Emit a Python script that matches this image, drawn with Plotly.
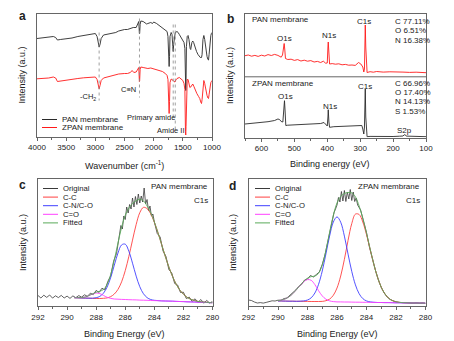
import plotly.graph_objects as go

# ---------------- Panel a : FTIR ----------------
wn_pan = [4000, 3900, 3800, 3720, 3680, 3650, 3600, 3500, 3400, 3300,
          3200, 3100, 3000, 2970, 2950, 2935, 2920, 2900, 2860, 2800,
          2700, 2650, 2600, 2550, 2500, 2450, 2400, 2350, 2300, 2270,
          2255, 2245, 2240, 2232, 2220, 2180, 2150, 2120, 2100, 2050,
          2020, 2000, 1950, 1900, 1850, 1800, 1770, 1755, 1745, 1735,
          1728, 1720, 1700, 1685, 1672, 1665, 1658, 1645, 1630, 1600,
          1580, 1560, 1530, 1500, 1480, 1465, 1455, 1450, 1445, 1438,
          1425, 1410, 1395, 1375, 1365, 1345, 1330, 1315, 1290, 1265,
          1240, 1215, 1200, 1180, 1170, 1155, 1140, 1125, 1105, 1085,
          1070, 1060, 1050, 1035, 1020, 1010, 1000]
int_pan = [98, 98.5, 99, 100, 99, 96.5, 97, 97.5, 98.5, 100,
           101, 102, 103, 100, 93, 89.5, 92, 98, 101.5, 102,
           103, 104, 105.5, 106.5, 107, 107, 108, 109, 109, 113,
           115, 103, 103, 112, 115.5, 115, 114, 112.5, 113, 114,
           113, 114.5, 113, 111, 109, 107, 105, 100, 80, 70,
           80, 100, 104, 102, 90, 85, 92, 101, 104, 105,
           104, 102, 99, 97, 94, 88, 50, 46, 55, 90,
           100, 101, 97, 88, 87, 94, 95.5, 94, 88, 85,
           82, 79.5, 79, 79, 82, 97, 101, 97, 87, 80,
           77, 76.5, 82, 95, 101, 103, 104]
wn_zpan = [4000, 3900, 3800, 3720, 3680, 3650, 3600, 3500, 3400, 3300,
           3200, 3100, 3000, 2970, 2950, 2935, 2920, 2900, 2860, 2800,
           2700, 2600, 2500, 2450, 2400, 2370, 2340, 2300, 2270, 2255,
           2245, 2240, 2232, 2220, 2180, 2150, 2100, 2050, 2000, 1950,
           1900, 1850, 1800, 1770, 1755, 1745, 1735, 1728, 1720, 1700,
           1680, 1665, 1650, 1635, 1620, 1600, 1560, 1530, 1500, 1480,
           1465, 1455, 1450, 1445, 1438, 1425, 1410, 1395, 1380, 1365,
           1345, 1330, 1310, 1285, 1260, 1230, 1210, 1190, 1180, 1170,
           1155, 1140, 1125, 1105, 1085, 1070, 1060, 1050, 1035, 1020,
           1010, 1000]
int_zpan = [57.7, 58, 58.5, 59.5, 58.5, 55, 55.5, 56, 57, 58,
            58.7, 59, 59.5, 57, 51, 47.7, 51, 56, 58.5, 59.5,
            61, 62.5, 63, 63, 64, 66, 64, 64.5, 67.5, 69,
            55, 56, 67, 69.5, 69, 68.5, 68, 68.5, 67.7, 67,
            66, 65, 63, 61, 57, 38, 23, 35, 54, 57.5,
            57, 56, 55, 54.5, 56.5, 58, 59, 57.5, 56, 53,
            47, 5, 1.5, 10, 45, 57, 57, 53, 49, 49.5,
            52, 52.5, 50, 46, 43, 40, 38, 34, 33, 37,
            52, 56, 53, 46, 41, 38.5, 38, 42, 50, 54,
            55, 56]
guide_wn = [2935, 2243, 1665, 1630]
guide_top = [104, 118, 112, 112]
guide_bot = [36, 39, 16, 5]

# ---------------- Panel b : XPS survey ----------------
be_pan = [650, 640, 630, 620, 610, 600, 590, 580, 570, 560,
          550, 545, 540, 536, 533, 531, 529, 527, 520, 510,
          500, 490, 480, 470, 460, 450, 440, 430, 420, 412,
          405, 400, 398, 397, 395, 393, 385, 375, 365, 355,
          345, 335, 325, 315, 305, 298, 292, 289, 287, 285.5,
          284.5, 283, 281, 279, 270, 260, 250, 230, 210, 190,
          170, 150, 130, 100]
surv_pan = [81.3, 82.0, 80.8, 81.6, 80.6, 81.8, 81.0, 82.4, 81.5, 82.6,
            81.6, 80.5, 79.8, 82, 91, 93.5, 87, 78.5, 77.5, 77.8,
            76.6, 77.4, 76.0, 76.8, 75.8, 76.4, 75.0, 75.6, 74.5, 75.8,
            73.8, 74.0, 90, 95, 84, 73, 73.4, 72.8, 73.2, 72.2,
            72.6, 71.8, 72.0, 71.6, 74.5, 73.0, 70.0, 65.0, 68, 100,
            112, 90, 66, 64.5, 65.3, 64.8, 65.5, 64.9, 65.2, 64.7,
            64.9, 64.6, 64.8, 64.3]
be_zpan = [650, 640, 620, 600, 580, 560, 550, 545, 540, 535,
           532, 530, 528, 526, 520, 500, 480, 460, 440, 420,
           410, 405, 400, 398, 397, 395, 393, 380, 360, 340,
           320, 305, 295, 292, 289, 287, 285.5, 284.5, 283, 281,
           279, 270, 250, 230, 200, 180, 170, 166, 163, 160,
           140, 120, 100]
surv_zpan = [13, 13.3, 14, 14.5, 15.3, 16.5, 18, 17.5, 15.5, 15,
             30, 36.3, 25, 11.5, 11.8, 12.0, 12.3, 12.6, 13, 13.5,
             14.5, 13, 11, 20, 27.3, 15, 9.7, 10.3, 10.7, 10.8,
             11.5, 12, 11.5, 8, 3, 10, 42, 48, 20, 0.5,
             0.3, 0.6, 0.4, 0.7, 0.5, 0.8, 1.0, 2.2, 2.2, 0.9,
             0.5, 0.4, 0.3]
comp_pan = ["C 77.11%", "O 6.51%", "N 16.38%"]
comp_zpan = ["C 66.96%", "O 17.40%", "N 14.13%", "S 1.53%"]

# ---------------- Panel c : PAN C1s ----------------
e_fit_c = [289.5, 289.25, 289.0, 288.75, 288.5, 288.25, 288.0, 287.75, 287.5, 287.25,
           287.0, 286.75, 286.5, 286.25, 286.0, 285.75, 285.5, 285.25, 285.0, 284.75,
           284.5, 284.25, 284.0, 283.75, 283.5, 283.25, 283.0, 282.75, 282.5, 282.25,
           282.0, 281.75, 281.5, 281.25, 281.0, 280.75, 280.5, 280.25, 280.0]
cc_c = [8.3, 8.2, 8.0, 7.9, 7.8, 7.6, 7.5, 7.5, 7.7, 8.1,
        9.4, 12.0, 16.6, 24.2, 35.4, 49.7, 65.9, 81.5, 93.3, 98.6,
        97.4, 92.2, 83.8, 73.3, 61.6, 49.8, 39.0, 29.6, 21.9, 16.0,
        11.8, 8.7, 6.8, 5.5, 4.6, 4.1, 3.8, 3.5, 3.3]
cn_c = [8.3, 8.2, 8.0, 7.9, 7.8, 7.8, 8.3, 9.6, 12.8, 18.8,
        28.5, 40.9, 53.0, 61.1, 61.8, 54.7, 42.8, 29.9, 19.3, 12.3,
        8.4, 6.5, 5.7, 5.4, 5.1, 5.0, 4.9, 4.8, 4.6, 4.5,
        4.4, 4.2, 4.1, 4.0, 3.8, 3.7, 3.6, 3.4, 3.3]
co_c = [8.3, 8.3, 8.4, 9.0, 10.4, 12.0, 13.0, 12.4, 10.6, 8.7,
        7.6, 7.0, 6.8, 6.6, 6.5, 6.3, 6.2, 6.1, 5.9, 5.8,
        5.7, 5.5, 5.4, 5.3, 5.1, 5.0, 4.9, 4.8, 4.6, 4.5,
        4.4, 4.2, 4.1, 4.0, 3.8, 3.7, 3.6, 3.4, 3.3]
fit_c = [8.3, 8.3, 8.4, 9.0, 10.4, 12.2, 13.8, 14.8, 16.5, 21.4,
         31.5, 46.2, 63.0, 78.7, 90.7, 98.1, 102.5, 105.3, 106.7, 105.1,
         100.1, 93.2, 84.1, 73.4, 61.6, 49.8, 39.0, 29.6, 21.9, 16.0,
         11.8, 8.7, 6.8, 5.5, 4.6, 4.1, 3.8, 3.5, 3.3]
e_orig_c = [292.0, 291.8, 291.6, 291.4, 291.2, 291.0, 290.8, 290.6, 290.4, 290.2,
            290.0, 289.8, 289.6, 289.4, 289.2, 289.0, 288.8, 288.6, 288.4, 288.2,
            288.0, 287.8, 287.6, 287.4, 287.2, 287.0, 286.8, 286.6,
            286.4, 286.3, 286.2, 286.1, 286.0, 285.9, 285.8, 285.7, 285.6, 285.5,
            285.4, 285.3, 285.2, 285.1, 285.0, 284.9, 284.8, 284.7, 284.6, 284.5,
            284.4, 284.3, 284.2, 284.1, 284.0,
            283.8, 283.6, 283.4, 283.2, 283.0, 282.8, 282.6, 282.4, 282.2, 282.0,
            281.8, 281.6, 281.4, 281.2, 281.0, 280.8, 280.6, 280.4, 280.2, 280.0]
orig_c = [10.5, 8.0, 10.8, 8.6, 11.0, 7.9, 10.2, 8.4, 10.6, 8.0,
          9.9, 7.6, 10.1, 8.3, 10.4, 8.9, 11.2, 9.6, 12.8, 11.4,
          15.6, 13.5, 17.8, 16.0, 24.5, 30.2, 44.8, 52.5,
          71.0, 80.5, 77.0, 90.0, 86.5, 99.0, 93.0, 101.5, 97.0, 108.0,
          99.0, 109.5, 101.5, 112.0, 103.0, 110.0, 104.0, 118.0, 102.0, 106.5,
          95.5, 100.0, 90.0, 92.0, 84.0,
          72.5, 69.0, 55.0, 49.5, 36.5, 33.0, 22.5, 21.0, 13.5, 13.8,
          7.5, 8.9, 4.5, 7.2, 3.6, 6.5, 2.8, 5.6, 3.0, 4.5]

# ---------------- Panel d : ZPAN C1s ----------------
e_fit_d = [290.0, 289.75, 289.5, 289.25, 289.0, 288.75, 288.5, 288.25, 288.0, 287.75,
           287.5, 287.25, 287.0, 286.75, 286.5, 286.25, 286.0, 285.75, 285.5, 285.25,
           285.0, 284.75, 284.5, 284.25, 284.0, 283.75, 283.5, 283.25, 283.0, 282.75,
           282.5, 282.25, 282.0, 281.75, 281.5, 281.25, 281.0, 280.75, 280.5, 280.25, 280.0]
cc_d = [5.0, 5.0, 4.9, 4.8, 4.8, 4.7, 4.7, 4.6, 4.6, 4.5,
        4.5, 4.5, 4.6, 5.3, 6.9, 10.7, 18.0, 30.0, 46.6, 65.6,
        82.4, 91.9, 91.5, 84.0, 71.4, 56.4, 41.5, 28.6, 18.8, 12.1,
        7.9, 5.5, 4.2, 3.6, 3.3, 3.2, 3.0, 3.0, 2.9, 2.9, 2.8]
cn_d = [5.0, 5.0, 4.9, 4.8, 4.8, 4.7, 4.8, 5.1, 6.0, 8.2,
        13.0, 21.7, 35.0, 52.2, 70.1, 83.9, 89.1, 83.8, 69.9, 51.9,
        34.6, 21.1, 12.3, 7.4, 5.1, 4.1, 3.7, 3.5, 3.5, 3.4,
        3.4, 3.3, 3.2, 3.2, 3.1, 3.1, 3.0, 3.0, 2.9, 2.9, 2.8]
co_d = [5.4, 6.1, 7.2, 9.2, 12.3, 16.3, 20.7, 24.3, 26.4, 25.7,
        21.4, 15.3, 10.1, 6.8, 5.1, 4.4, 4.1, 4.1, 4.0, 4.0,
        3.9, 3.8, 3.8, 3.7, 3.7, 3.6, 3.6, 3.5, 3.5, 3.4,
        3.4, 3.3, 3.2, 3.2, 3.1, 3.1, 3.0, 3.0, 2.9, 2.9, 2.8]
fit_d = [5.4, 6.1, 7.2, 9.2, 12.3, 16.3, 20.8, 24.8, 27.8, 29.4,
         29.9, 32.7, 41.1, 55.7, 73.7, 90.6, 103.0, 109.7, 112.5, 113.5,
         113.1, 109.2, 100.0, 87.7, 72.8, 56.9, 41.6, 28.6, 18.8, 12.1,
         7.9, 5.5, 4.2, 3.6, 3.3, 3.2, 3.0, 3.0, 2.9, 2.9, 2.8]
e_orig_d = [292.0, 291.8, 291.6, 291.4, 291.2, 291.0, 290.8, 290.6, 290.4, 290.2,
            290.0, 289.8, 289.6, 289.4, 289.2, 289.0, 288.8, 288.6, 288.4, 288.2,
            288.0, 287.8, 287.6, 287.4, 287.2, 287.0, 286.8, 286.6, 286.4, 286.2,
            286.1, 286.0, 285.9, 285.8, 285.7, 285.6, 285.5, 285.4, 285.3, 285.2,
            285.1, 285.0, 284.9, 284.8, 284.7, 284.6,
            284.4, 284.2, 284.0, 283.8,
            283.6, 283.4, 283.2, 283.0, 282.8, 282.6, 282.4, 282.2, 282.0, 281.8,
            281.6, 281.4, 281.2, 281.0, 280.8, 280.6, 280.4, 280.2, 280.0]
orig_d = [6.0, 5.5, 4.0, 3.0, 3.4, 2.9, 3.6, 4.6, 5.2, 5.0,
          5.8, 5.6, 7.4, 8.0, 10.6, 12.5, 16.0, 19.5, 21.5, 26.0,
          27.0, 30.5, 29.0, 31.5, 34.0, 41.5, 52.0, 66.0, 80.0, 93.5,
          97.0, 101.0, 108.5, 104.0, 114.5, 105.0, 115.5, 104.5, 114.0, 107.0,
          116.5, 105.5, 114.0, 104.5, 108.0, 101.0,
          96.0, 85.5, 73.5, 59.0,
          47.0, 36.0, 26.5, 18.5, 13.0, 9.0, 6.5, 5.2, 4.0, 3.6,
          3.4, 3.8, 3.0, 3.3, 2.8, 3.2, 2.7, 3.0, 2.6]

legend_names = ["Original", "C-C", "C-N/C-O", "C=O", "Fitted"]
legend_colors = ["#3a3a3a", "#ff4040", "#4040ff", "#ff40ff", "#5aaa5a"]

# ---------------- figure ----------------
W, H = 454, 341
FONT = "Liberation Sans, Arial, sans-serif"
TXT = "#222222"
AX = "#666666"


def fx(x):
    return x / W


def fy(y):
    return 1 - y / H


fig = go.Figure()

# panel a
fig.add_trace(go.Scatter(x=wn_pan, y=int_pan, mode="lines", line=dict(color="#2a2a2a", width=0.9),
                         xaxis="x", yaxis="y", showlegend=False))
fig.add_trace(go.Scatter(x=wn_zpan, y=int_zpan, mode="lines", line=dict(color="#ff1a1a", width=0.9),
                         xaxis="x", yaxis="y", showlegend=False))
for w, t, b in zip(guide_wn, guide_top, guide_bot):
    fig.add_trace(go.Scatter(x=[w, w], y=[t, b], mode="lines",
                             line=dict(color="#888888", width=0.8, dash="dot"),
                             xaxis="x", yaxis="y", showlegend=False))

# panel b
fig.add_trace(go.Scatter(x=be_pan, y=surv_pan, mode="lines", line=dict(color="#ff1a1a", width=0.9),
                         xaxis="x2", yaxis="y2", showlegend=False))
fig.add_trace(go.Scatter(x=be_zpan, y=surv_zpan, mode="lines", line=dict(color="#2a2a2a", width=0.9),
                         xaxis="x2", yaxis="y2", showlegend=False))

# panels c, d
for (xa, ya, eo, yo, ef, comps) in [
    ("x3", "y3", e_orig_c, orig_c, e_fit_c, [cc_c, cn_c, co_c, fit_c]),
    ("x4", "y4", e_orig_d, orig_d, e_fit_d, [cc_d, cn_d, co_d, fit_d]),
]:
    fig.add_trace(go.Scatter(x=eo, y=yo, mode="lines", line=dict(color=legend_colors[0], width=0.8),
                             xaxis=xa, yaxis=ya, showlegend=False))
    for vals, col in zip(comps, legend_colors[1:]):
        fig.add_trace(go.Scatter(x=ef, y=vals, mode="lines", line=dict(color=col, width=0.9, shape="spline"),
                                 xaxis=xa, yaxis=ya, showlegend=False))

axis_common = dict(showline=True, linecolor=AX, linewidth=1, mirror=True, showgrid=False,
                   zeroline=False, ticks="outside", ticklen=3, tickcolor=AX, tickwidth=1,
                   tickfont=dict(family=FONT, size=8, color=TXT), automargin=False)
yaxis_common = dict(showline=True, linecolor=AX, linewidth=1, mirror=True, showgrid=False,
                    zeroline=False, ticks="", showticklabels=False, automargin=False)

boxes = {
    "a": (37, 212, 13.5, 136.5),
    "b": (245, 426, 13.5, 137.5),
    "c": (38, 212.5, 179, 306),
    "d": (248.5, 425.5, 179, 306),
}


def dom(b):
    x0, x1, t, bt = b
    return [fx(x0), fx(x1)], [fy(bt), fy(t)]


def title(t, standoff):
    return dict(text=t, standoff=standoff, font=dict(family=FONT, size=9, color=TXT))


xd, yd = dom(boxes["a"])
fig.update_layout(
    xaxis=dict(domain=xd, range=[4000, 1000], anchor="y", tickmode="linear", tick0=1000, dtick=500,
               minor=dict(ticks="outside", ticklen=2, dtick=250, tickcolor=AX), **axis_common),
    yaxis=dict(domain=yd, range=[0, 123], anchor="x", title=title("Intensity (a.u.)", 8), **yaxis_common),
)
xd, yd = dom(boxes["b"])
fig.update_layout(
    xaxis2=dict(domain=xd, range=[650, 100], anchor="y2", tickmode="linear", tick0=100, dtick=100,
                minor=dict(ticks="outside", ticklen=2, dtick=50, tickcolor=AX), **axis_common),
    yaxis2=dict(domain=yd, range=[-0.5, 123.5], anchor="x2", title=title("Intensity (a.u.)", 8), **yaxis_common),
)
xd, yd = dom(boxes["c"])
fig.update_layout(
    xaxis3=dict(domain=xd, range=[292, 280], anchor="y3", tickmode="linear", tick0=280, dtick=2,
                minor=dict(ticks="outside", ticklen=2, dtick=1, tickcolor=AX), **axis_common),
    yaxis3=dict(domain=yd, range=[0, 127], anchor="x3", title=title("Intensity (a.u.)", 8), **yaxis_common),
)
xd, yd = dom(boxes["d"])
fig.update_layout(
    xaxis4=dict(domain=xd, range=[292, 280], anchor="y4", tickmode="linear", tick0=280, dtick=2,
                minor=dict(ticks="outside", ticklen=2, dtick=1, tickcolor=AX), **axis_common),
    yaxis4=dict(domain=yd, range=[0, 127], anchor="x4", title=title("Intensity (a.u.)", 9), **yaxis_common),
)

shapes = []
# divider in panel b
shapes.append(dict(type="line", xref="paper", yref="paper", x0=fx(245), x1=fx(426), y0=fy(76.8), y1=fy(76.8),
                   line=dict(color=AX, width=1)))

ann = []


def text(t, x, y, size=8, xanchor="center", yanchor="middle", bold=False, angle=0):
    f = dict(family=FONT, size=size, color=TXT)
    if bold:
        f["weight"] = "bold"
    ann.append(dict(text=t, x=fx(x), y=fy(y), xref="paper", yref="paper",
                    showarrow=False, xanchor=xanchor, yanchor=yanchor, textangle=angle, font=f))


# panel letters
text("a", 22, 16.5, 12, bold=True)
text("b", 231, 19, 12, bold=True)
text("c", 22, 184.5, 12, bold=True)
text("d", 232, 186, 12, bold=True)

# x axis titles
text("Wavenumber (cm<sup>-1</sup>)", 124, 164.5, 9)
text("Binding energy (eV)", 330, 164, 9)
text("Binding Energy (eV)", 124, 333.5, 9)
text("Binding Energy (eV)", 337, 333.5, 9)

# panel a annotations
text("-CH<sub>2</sub>", 88, 97, 7.5)
text("C≡N", 128, 89, 7.5)
text("Primary amide", 151, 117.5, 7.5)
text("Amide II", 170.5, 130, 7.5)
# panel a legend
for i, (nm, col) in enumerate([("PAN membrane", "#2a2a2a"), ("ZPAN membrane", "#ff1a1a")]):
    yy = 119.5 + 8 * i
    shapes.append(dict(type="line", xref="paper", yref="paper", x0=fx(42), x1=fx(57), y0=fy(yy), y1=fy(yy),
                       line=dict(color=col, width=1)))
    text(nm, 59.5, yy, 8, xanchor="left")

# panel b annotations
text("PAN membrane", 250, 20, 8, xanchor="left")
text("ZPAN membrane", 250, 83, 8, xanchor="left")
text("O1s", 284.5, 38.5, 8)
text("N1s", 329, 35, 8)
text("C1s", 364, 21.5, 8)
text("O1s", 285.5, 96.5, 8)
text("N1s", 330, 107, 8)
text("C1s", 365, 86.5, 8)
text("S2p", 404, 130, 8)
for i, t in enumerate(comp_pan):
    text(t, 392.5, 21.3 + 9.5 * i, 8, xanchor="left")
for i, t in enumerate(comp_zpan):
    text(t, 392.5, 83.3 + 9.35 * i, 8, xanchor="left")

# panels c, d annotations + legends
text("PAN membrane", 209.5, 186.5, 8, xanchor="right")
text("C1s", 209.5, 200, 8, xanchor="right")
text("ZPAN membrane", 421.5, 186.5, 8, xanchor="right")
text("C1s", 421.5, 200, 8, xanchor="right")
for (lx0, lx1, tx) in [(43, 58, 61), (255, 270, 273)]:
    for i, (nm, col) in enumerate(zip(legend_names, legend_colors)):
        yy = 188.5 + 8.6 * i
        shapes.append(dict(type="line", xref="paper", yref="paper", x0=fx(lx0), x1=fx(lx1), y0=fy(yy), y1=fy(yy),
                           line=dict(color=col, width=1)))
        text(nm, tx, yy, 7.7, xanchor="left")

fig.update_layout(
    width=W, height=H, margin=dict(l=0, r=0, t=0, b=0),
    paper_bgcolor="white", plot_bgcolor="white",
    showlegend=False, shapes=shapes, annotations=ann,
    font=dict(family=FONT, color=TXT),
)

fig.write_html("out.html")
